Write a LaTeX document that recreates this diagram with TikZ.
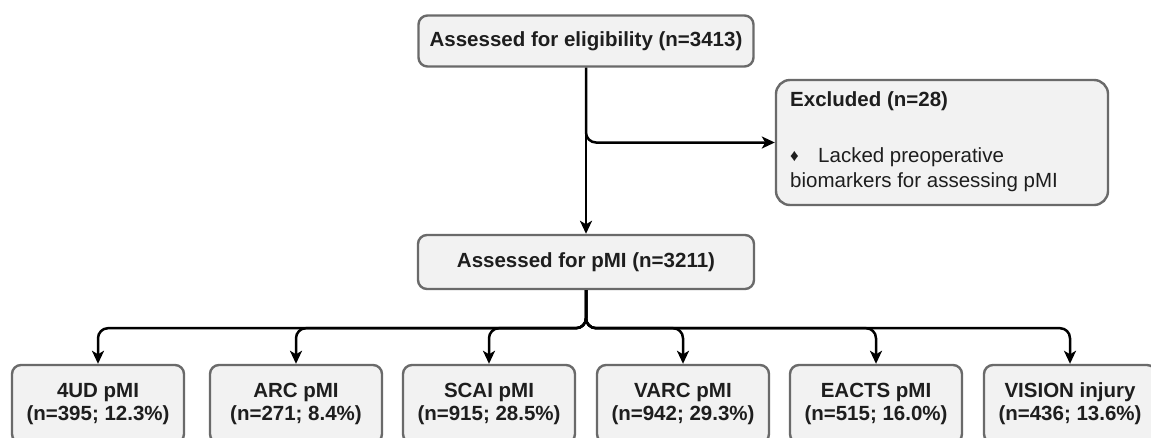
\documentclass[tikz,border=0pt]{standalone}
\usepackage{fontspec}
\setmainfont{Liberation Sans}
\usetikzlibrary{arrows.meta}
\definecolor{boxfill}{HTML}{F2F2F2}
\definecolor{boxgray}{HTML}{6A6A6A}
\definecolor{textc}{HTML}{1E1E1E}
\begin{document}
\begin{tikzpicture}[x=1pt,y=-1pt,
  box/.style={draw=boxgray, line width=2.4pt, fill=boxfill, rounded corners=9pt, inner sep=0pt,
    font=\bfseries\fontsize{20.5}{23}\selectfont, text=textc, align=center},
  lefttext/.style={anchor=base west, inner sep=0pt, text=textc, font=\fontsize{20.5}{23}\selectfont},
  conn/.style={line width=2.5pt, rounded corners=10pt, -{Stealth[length=13pt,width=12pt,inset=3.5pt]}}]
\useasboundingbox (0,0) rectangle (1151,437);
\clip (0,0) rectangle (1151,437);
% main boxes
\node[box, minimum width=335pt, minimum height=51pt] (elig) at (586,41) {Assessed for eligibility (n=3413)};
\node[box, minimum width=336pt, minimum height=54pt] (pmi) at (586,262) {Assessed for pMI (n=3211)};
% excluded box
\node[box, rounded corners=14pt, minimum width=332pt, minimum height=125pt] (excl) at (942,142.5) {};
\node[lefttext, font=\bfseries\fontsize{20.5}{23}\selectfont] (exclt) at (790,106) {Excluded (n=28)};
\node[lefttext, font=\fontsize{17}{19}\selectfont] (exclb) at (790,161) {♦};
\node[lefttext] (excl1) at (818,162) {Lacked preoperative};
\node[lefttext] (excl2) at (790,187) {biomarkers for assessing pMI};
% bottom boxes
\foreach \n/\x/\a/\b in {b1/98/4UD pMI/(n=395; 12.3\%), b2/296/ARC pMI/(n=271; 8.4\%),
  b3/489/SCAI pMI/(n=915; 28.5\%), b4/683/VARC pMI/(n=942; 29.3\%),
  b5/876/EACTS pMI/(n=515; 16.0\%), b6/1070/VISION injury/(n=436; 13.6\%)}{
  \node[box, minimum width=172pt, minimum height=78pt] (\n) at (\x,404) {\a\\\b};
}
% connectors
\draw[conn] (elig.south) -- (pmi.north);
\draw[conn] (elig.south) |- (excl.west);
\foreach \n in {b1,b2,b3,b4,b5,b6}{
  \draw[conn] (pmi.south) -- ++(0,38) -| (\n.north);
}
\end{tikzpicture}
\end{document}
